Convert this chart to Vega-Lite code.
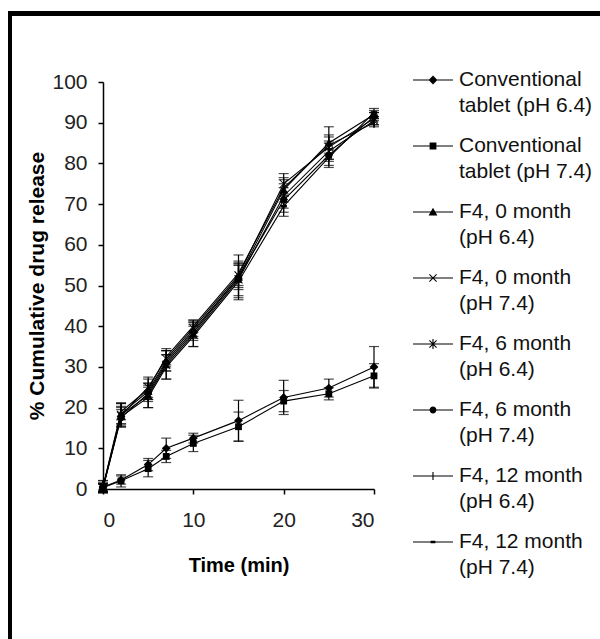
{
  "$schema": "https://vega.github.io/schema/vega-lite/v6.json",
  "autosize": {"type": "none"},
  "padding": {"left": 103, "top": 82, "right": 226, "bottom": 150},
  "width": 271,
  "height": 407,
  "background": "white",
  "config": {
    "view": {"stroke": null},
    "font": "Liberation Sans",
    "style": {"guide-label": {"lineHeight": 26}},
    "axis": {"grid": false, "domainColor": "black", "domainWidth": 1.5, "tickColor": "black", "tickWidth": 1.5, "tickSize": 5, "labelFont": "Liberation Sans", "labelFontSize": 21, "labelColor": "#222", "titleFont": "Liberation Sans", "titleFontSize": 20, "titleFontWeight": "bold", "titleColor": "black"}
  },
  "data": {"values": [
    {"series": "Conventional tablet (pH 6.4)", "t": 0, "value": 0.5, "sd": 1.0},
    {"series": "Conventional tablet (pH 6.4)", "t": 2, "value": 2.2, "sd": 1.0},
    {"series": "Conventional tablet (pH 6.4)", "t": 5, "value": 6.0, "sd": 1.5},
    {"series": "Conventional tablet (pH 6.4)", "t": 7, "value": 10.0, "sd": 2.5},
    {"series": "Conventional tablet (pH 6.4)", "t": 10, "value": 12.5, "sd": 1.2},
    {"series": "Conventional tablet (pH 6.4)", "t": 15, "value": 16.8, "sd": 5.0},
    {"series": "Conventional tablet (pH 6.4)", "t": 20, "value": 22.5, "sd": 4.2},
    {"series": "Conventional tablet (pH 6.4)", "t": 25, "value": 24.8, "sd": 2.2},
    {"series": "Conventional tablet (pH 6.4)", "t": 30, "value": 30.0, "sd": 5.0},
    {"series": "Conventional tablet (pH 7.4)", "t": 0, "value": 0.3, "sd": 1.0},
    {"series": "Conventional tablet (pH 7.4)", "t": 2, "value": 2.0, "sd": 1.5},
    {"series": "Conventional tablet (pH 7.4)", "t": 5, "value": 5.0, "sd": 2.0},
    {"series": "Conventional tablet (pH 7.4)", "t": 7, "value": 8.0, "sd": 1.5},
    {"series": "Conventional tablet (pH 7.4)", "t": 10, "value": 11.2, "sd": 2.0},
    {"series": "Conventional tablet (pH 7.4)", "t": 15, "value": 15.3, "sd": 3.6},
    {"series": "Conventional tablet (pH 7.4)", "t": 20, "value": 21.6, "sd": 2.6},
    {"series": "Conventional tablet (pH 7.4)", "t": 25, "value": 23.4, "sd": 1.5},
    {"series": "Conventional tablet (pH 7.4)", "t": 30, "value": 27.8, "sd": 3.0},
    {"series": "F4, 0 month (pH 6.4)", "t": 0, "value": 0.5, "sd": 1.5},
    {"series": "F4, 0 month (pH 6.4)", "t": 2, "value": 18.5, "sd": 2.5},
    {"series": "F4, 0 month (pH 6.4)", "t": 5, "value": 24.0, "sd": 2.0},
    {"series": "F4, 0 month (pH 6.4)", "t": 7, "value": 31.5, "sd": 2.5},
    {"series": "F4, 0 month (pH 6.4)", "t": 10, "value": 39.0, "sd": 2.0},
    {"series": "F4, 0 month (pH 6.4)", "t": 15, "value": 52.0, "sd": 5.5},
    {"series": "F4, 0 month (pH 6.4)", "t": 20, "value": 73.5, "sd": 3.0},
    {"series": "F4, 0 month (pH 6.4)", "t": 25, "value": 85.0, "sd": 4.0},
    {"series": "F4, 0 month (pH 6.4)", "t": 30, "value": 92.0, "sd": 1.0},
    {"series": "F4, 0 month (pH 7.4)", "t": 0, "value": 0.3, "sd": 1.0},
    {"series": "F4, 0 month (pH 7.4)", "t": 2, "value": 18.0, "sd": 2.0},
    {"series": "F4, 0 month (pH 7.4)", "t": 5, "value": 25.0, "sd": 2.5},
    {"series": "F4, 0 month (pH 7.4)", "t": 7, "value": 32.0, "sd": 2.0},
    {"series": "F4, 0 month (pH 7.4)", "t": 10, "value": 39.5, "sd": 2.0},
    {"series": "F4, 0 month (pH 7.4)", "t": 15, "value": 52.5, "sd": 3.0},
    {"series": "F4, 0 month (pH 7.4)", "t": 20, "value": 75.0, "sd": 2.5},
    {"series": "F4, 0 month (pH 7.4)", "t": 25, "value": 84.0, "sd": 3.0},
    {"series": "F4, 0 month (pH 7.4)", "t": 30, "value": 91.0, "sd": 1.5},
    {"series": "F4, 6 month (pH 6.4)", "t": 0, "value": 0.4, "sd": 1.0},
    {"series": "F4, 6 month (pH 6.4)", "t": 2, "value": 18.2, "sd": 3.0},
    {"series": "F4, 6 month (pH 6.4)", "t": 5, "value": 23.0, "sd": 3.0},
    {"series": "F4, 6 month (pH 6.4)", "t": 7, "value": 30.5, "sd": 3.5},
    {"series": "F4, 6 month (pH 6.4)", "t": 10, "value": 38.0, "sd": 3.0},
    {"series": "F4, 6 month (pH 6.4)", "t": 15, "value": 51.5, "sd": 4.0},
    {"series": "F4, 6 month (pH 6.4)", "t": 20, "value": 72.0, "sd": 3.0},
    {"series": "F4, 6 month (pH 6.4)", "t": 25, "value": 83.0, "sd": 2.5},
    {"series": "F4, 6 month (pH 6.4)", "t": 30, "value": 90.5, "sd": 1.0},
    {"series": "F4, 6 month (pH 7.4)", "t": 0, "value": 0.2, "sd": 1.0},
    {"series": "F4, 6 month (pH 7.4)", "t": 2, "value": 17.5, "sd": 2.0},
    {"series": "F4, 6 month (pH 7.4)", "t": 5, "value": 23.5, "sd": 2.0},
    {"series": "F4, 6 month (pH 7.4)", "t": 7, "value": 31.0, "sd": 2.0},
    {"series": "F4, 6 month (pH 7.4)", "t": 10, "value": 38.5, "sd": 2.0},
    {"series": "F4, 6 month (pH 7.4)", "t": 15, "value": 52.0, "sd": 3.0},
    {"series": "F4, 6 month (pH 7.4)", "t": 20, "value": 71.0, "sd": 3.0},
    {"series": "F4, 6 month (pH 7.4)", "t": 25, "value": 82.0, "sd": 3.0},
    {"series": "F4, 6 month (pH 7.4)", "t": 30, "value": 91.5, "sd": 1.0},
    {"series": "F4, 12 month (pH 6.4)", "t": 0, "value": 0.6, "sd": 1.5},
    {"series": "F4, 12 month (pH 6.4)", "t": 2, "value": 19.0, "sd": 2.0},
    {"series": "F4, 12 month (pH 6.4)", "t": 5, "value": 24.5, "sd": 2.5},
    {"series": "F4, 12 month (pH 6.4)", "t": 7, "value": 32.5, "sd": 2.0},
    {"series": "F4, 12 month (pH 6.4)", "t": 10, "value": 40.0, "sd": 1.5},
    {"series": "F4, 12 month (pH 6.4)", "t": 15, "value": 53.0, "sd": 3.0},
    {"series": "F4, 12 month (pH 6.4)", "t": 20, "value": 74.0, "sd": 2.0},
    {"series": "F4, 12 month (pH 6.4)", "t": 25, "value": 84.5, "sd": 2.0},
    {"series": "F4, 12 month (pH 6.4)", "t": 30, "value": 90.0, "sd": 1.0},
    {"series": "F4, 12 month (pH 7.4)", "t": 0, "value": 0.3, "sd": 1.0},
    {"series": "F4, 12 month (pH 7.4)", "t": 2, "value": 17.8, "sd": 2.5},
    {"series": "F4, 12 month (pH 7.4)", "t": 5, "value": 22.5, "sd": 2.5},
    {"series": "F4, 12 month (pH 7.4)", "t": 7, "value": 30.0, "sd": 3.0},
    {"series": "F4, 12 month (pH 7.4)", "t": 10, "value": 37.5, "sd": 2.5},
    {"series": "F4, 12 month (pH 7.4)", "t": 15, "value": 51.0, "sd": 4.0},
    {"series": "F4, 12 month (pH 7.4)", "t": 20, "value": 69.5, "sd": 2.5},
    {"series": "F4, 12 month (pH 7.4)", "t": 25, "value": 81.5, "sd": 2.0},
    {"series": "F4, 12 month (pH 7.4)", "t": 30, "value": 92.5, "sd": 1.0}
  ]},
  "encoding": {
    "x": {"field": "t", "type": "quantitative", "scale": {"domain": [0, 30], "nice": false}, "axis": {"title": "Time (min)", "values": [0, 10, 20, 30], "labelPadding": 15, "titlePadding": 25}},
    "y": {"field": "value", "type": "quantitative", "scale": {"domain": [0, 100], "nice": false}, "axis": {"title": "% Cumulative drug release", "values": [0, 10, 20, 30, 40, 50, 60, 70, 80, 90, 100], "labelPadding": 11, "titlePadding": 4, "titleFontSize": 21}}
  },
  "layer": [
    {
      "mark": {"type": "rule", "color": "black", "strokeWidth": 3.5, "clip": false},
      "encoding": {
        "x": {"datum": -10.3, "type": "quantitative"},
        "y": {"datum": 117, "type": "quantitative"},
        "y2": {"datum": -60},
        "x2": null
      }
    },
    {
      "mark": {"type": "rule", "color": "black", "strokeWidth": 3.5, "clip": false},
      "encoding": {
        "y": {"datum": 116.8, "type": "quantitative"},
        "x": {"datum": -10.5, "type": "quantitative"},
        "x2": {"datum": 80}
      }
    },
    {
      "mark": {"type": "errorbar", "ticks": {"size": 10, "thickness": 1.2, "color": "black"}, "rule": {"color": "black", "strokeWidth": 1.2}},
      "encoding": {
        "y": {"field": "value", "type": "quantitative"},
        "yError": {"field": "sd"},
        "detail": {"field": "series"}
      }
    },
    {
      "mark": {"type": "line", "color": "black", "strokeWidth": 1.1},
      "encoding": {"detail": {"field": "series"}}
    },
    {
      "mark": {"type": "point", "filled": true, "color": "black", "opacity": 1, "size": 64},
      "encoding": {
        "shape": {"field": "series", "type": "nominal", "legend": null,
          "scale": {
            "domain": ["Conventional tablet (pH 6.4)", "Conventional tablet (pH 7.4)", "F4, 0 month (pH 6.4)", "F4, 0 month (pH 7.4)", "F4, 6 month (pH 6.4)", "F4, 6 month (pH 7.4)", "F4, 12 month (pH 6.4)", "F4, 12 month (pH 7.4)"],
            "range": [
              "M0,-1.1L-1.1,0L0,1.1L1.1,0Z",
              "M-0.85,-0.85V0.85H0.85V-0.85Z",
              "M0,-1.1L-1.1,0.85H1.1Z",
              "M-1.088,-0.912L0.912,1.088L1.088,0.912L-0.912,-1.088ZM-0.912,1.088L1.088,-0.912L0.912,-1.088L-1.088,0.912Z",
              "M-1.088,-0.912L0.912,1.088L1.088,0.912L-0.912,-1.088ZM-0.912,1.088L1.088,-0.912L0.912,-1.088L-1.088,0.912ZM-0.14,-1.3V1.3H0.14V-1.3Z",
              "M0.9,0A0.9,0.9,0,1,0,-0.9,0A0.9,0.9,0,1,0,0.9,0Z",
              "M-0.16,-1.3V1.3H0.16V-1.3Z",
              "M-0.8,-0.35V0.35H0.8V-0.35Z"
            ]
          }
        }
      }
    },
    {
      "transform": [{"filter": "false"}],
      "mark": {"type": "point", "filled": true, "color": "black", "opacity": 1, "size": 1600},
      "encoding": {
        "shape": {"field": "series", "type": "nominal",
          "scale": {
            "domain": ["Conventional tablet (pH 6.4)", "Conventional tablet (pH 7.4)", "F4, 0 month (pH 6.4)", "F4, 0 month (pH 7.4)", "F4, 6 month (pH 6.4)", "F4, 6 month (pH 7.4)", "F4, 12 month (pH 6.4)", "F4, 12 month (pH 7.4)"],
            "range": [
              "M-1,-0.03V0.03H1V-0.03ZM0,-0.22L-0.22,0L0,0.22L0.22,0Z",
              "M-1,-0.03V0.03H1V-0.03ZM-0.17,-0.17V0.17H0.17V-0.17Z",
              "M-1,-0.03V0.03H1V-0.03ZM0,-0.21L-0.22,0.17H0.22Z",
              "M-1,-0.03V0.03H1V-0.03ZM-0.198,-0.162L0.162,0.198L0.198,0.162L-0.162,-0.198ZM-0.162,0.198L0.198,-0.162L0.162,-0.198L-0.198,0.162Z",
              "M-1,-0.03V0.03H1V-0.03ZM-0.198,-0.162L0.162,0.198L0.198,0.162L-0.162,-0.198ZM-0.162,0.198L0.198,-0.162L0.162,-0.198L-0.198,0.162ZM-0.028,-0.25V0.25H0.028V-0.25Z",
              "M-1,-0.03V0.03H1V-0.03ZM0.17,0A0.17,0.17,0,1,0,-0.17,0A0.17,0.17,0,1,0,0.17,0Z",
              "M-1,-0.03V0.03H1V-0.03ZM-0.028,-0.2V0.2H0.028V-0.2Z",
              "M-1,-0.03V0.03H1V-0.03ZM-0.12,-0.065V0.065H0.12V-0.065Z"
            ]
          },
          "legend": {
            "title": null,
            "orient": "none",
            "legendX": 310,
            "legendY": -22,
            "padding": 0,
            "symbolSize": 1600,
            "symbolFillColor": "black",
            "symbolStrokeWidth": 0,
            "labelFont": "Liberation Sans",
            "labelFontSize": 21,
            "labelColor": "#111",
            "labelLimit": 400,
            "labelOffset": 6,
            "rowPadding": 10,
            "labelExpr": "indexof(datum.label, 'Conventional') == 0 ? ['Conventional', substring(datum.label, 13)] : [substring(datum.label, 0, indexof(datum.label, ' (')), substring(datum.label, indexof(datum.label, ' (') + 1)]"
          }
        }
      }
    }
  ],
  "resolve": {"scale": {"shape": "independent"}, "legend": {"shape": "independent"}}
}
